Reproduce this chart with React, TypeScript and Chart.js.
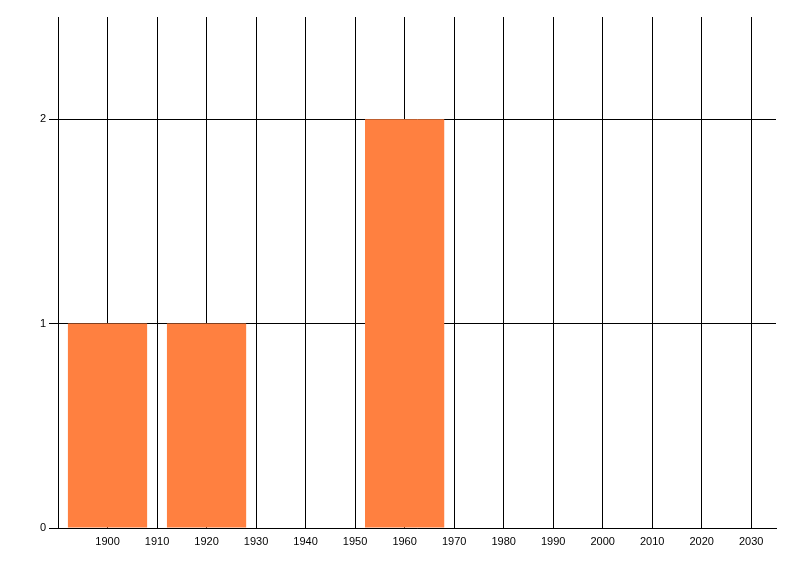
import React, { useEffect, useRef } from "react";
import { Chart, registerables } from "chart.js";

Chart.register(...registerables);

const binCenters = [1900, 1920, 1940, 1960];
const counts = [1, 1, 0, 2];
const xMin = 1890;
const xMax = 2035;
const yMax = 2.5;
const barColor = "rgb(255,128,64)";

export default function App() {
  const ref = useRef<HTMLCanvasElement | null>(null);
  useEffect(() => {
    if (!ref.current) return;
    const font = { family: "'Liberation Sans', Arial, sans-serif", size: 11 };
    const chart = new Chart(ref.current, {
      type: "bar",
      data: {
        datasets: [
          {
            data: binCenters.map((c, i) => ({ x: c, y: counts[i] })),
            backgroundColor: barColor,
            borderWidth: 0,
            barPercentage: 1,
            categoryPercentage: 1.6,
          },
        ],
      },
      options: {
        animation: false,
        responsive: false,
        maintainAspectRatio: false,
        layout: { padding: { left: 0, top: 17, right: 24, bottom: 0 } },
        plugins: { legend: { display: false }, tooltip: { enabled: false } },
        scales: {
          x: {
            type: "linear",
            min: xMin,
            max: xMax,
            offset: false,
            grid: { offset: false, color: "#000", lineWidth: 1, tickLength: 0, drawTicks: false },
            border: { display: true, color: "#000", width: 1 },
            ticks: {
              stepSize: 10,
              includeBounds: false,
              maxTicksLimit: 30,
              color: "#000",
              font,
              padding: 7,
              maxRotation: 0,
              autoSkip: false,
              callback: (v: any) => String(v),
            },
            afterBuildTicks: (axis: any) => {
              axis.ticks = axis.ticks.filter((t: any) => t.value > xMin);
            },
            afterFit: (axis: any) => {
              axis.height = 48;
            },
          },
          y: {
            min: 0,
            max: yMax,
            grid: { color: "#000", lineWidth: 1, tickLength: 9 },
            border: { display: true, color: "#000", width: 1 },
            ticks: { stepSize: 1, includeBounds: false, color: "#000", font, padding: 3, callback: (v: any) => String(v) },
            afterFit: (axis: any) => {
              axis.width = 58;
            },
          },
        },
      },
    });
    return () => chart.destroy();
  }, []);
  return (
    <div style={{ position: "fixed", left: 0, top: 0, width: 800, height: 576, background: "#fff" }}>
      <canvas ref={ref} width={800} height={576} style={{ display: "block" }} />
    </div>
  );
}
